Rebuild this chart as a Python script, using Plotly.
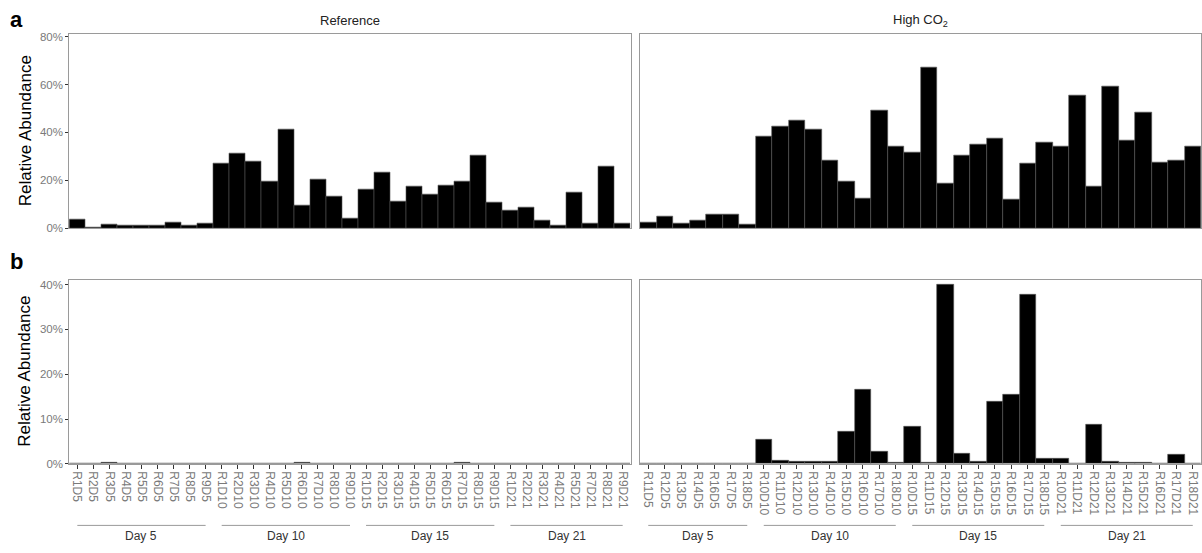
import plotly.graph_objects as go

# Sample labels per treatment (x categories)
ref_labels = (
    [f"R{i}D5" for i in range(1, 10)]
    + [f"R{i}D10" for i in range(1, 10)]
    + [f"R{i}D15" for i in range(1, 10)]
    + ["R1D21", "R2D21", "R3D21", "R4D21", "R5D21", "R7D21", "R8D21", "R9D21"]
)
co2_labels = (
    ["R11D5", "R12D5", "R13D5", "R14D5", "R16D5", "R17D5", "R18D5"]
    + [f"R{i}D10" for i in range(10, 19)]
    + [f"R{i}D15" for i in range(10, 19)]
    + [f"R{i}D21" for i in range(10, 19)]
)

# Day groups: (label, first sample, last sample)
ref_groups = [("Day 5", "R1D5", "R9D5"), ("Day 10", "R1D10", "R9D10"),
              ("Day 15", "R1D15", "R9D15"), ("Day 21", "R1D21", "R9D21")]
co2_groups = [("Day 5", "R11D5", "R18D5"), ("Day 10", "R10D10", "R18D10"),
              ("Day 15", "R10D15", "R18D15"), ("Day 21", "R10D21", "R18D21")]

# Panel a: relative abundance (%)
ref_a = [3.7, 0.5, 1.6, 1.2, 1.0, 1.1, 2.3, 1.1, 1.8,
         27.0, 31.4, 27.9, 19.6, 41.4, 9.5, 20.3, 13.4, 4.1,
         16.3, 23.2, 11.2, 17.5, 14.1, 17.9, 19.6, 30.3, 10.8,
         7.3, 8.6, 3.4, 1.0, 14.9, 2.1, 25.9, 1.9]
co2_a = [2.5, 4.7, 1.9, 3.3, 5.9, 5.6, 1.4,
         38.5, 42.5, 45.1, 41.4, 28.1, 19.6, 12.6, 49.2, 34.1,
         31.5, 67.1, 18.6, 30.5, 34.9, 37.5, 12.1, 27.1, 36.0,
         34.2, 55.5, 17.4, 59.0, 36.8, 48.4, 27.4, 28.4, 34.0]

# Panel b: relative abundance (%)
ref_b = [0.05, 0.05, 0.3, 0.05, 0.05, 0.05, 0.05, 0.05, 0.05,
         0.05, 0.05, 0.05, 0.05, 0.1, 0.25, 0.1, 0.05, 0.05,
         0.05, 0.05, 0.05, 0.05, 0.05, 0.1, 0.3, 0.05, 0.05,
         0.05, 0.05, 0.05, 0.05, 0.05, 0.05, 0.05, 0.05]
co2_b = [0.03, 0.03, 0.03, 0.03, 0.03, 0.03, 0.03,
         5.4, 0.7, 0.4, 0.55, 0.6, 7.2, 16.6, 2.8, 0.2,
         8.3, 0.3, 39.9, 2.3, 0.55, 13.9, 15.4, 37.8, 1.1,
         1.2, 0.05, 8.85, 0.6, 0.25, 0.2, 0.05, 2.1, 0.03]

FONT = "Liberation Sans, Arial, sans-serif"
W, H = 1202, 553

# Panel geometry in pixels
XL = (69.3, 630.7)
XR = (640.0, 1201.0)
YA = (31.0, 228.3)     # top, bottom of panel a
YB = (280.7, 468.3)    # top, bottom of panel b


def xdom(px):
    return [px[0] / W, px[1] / W]


def ydom(py):
    return [1 - py[1] / H, 1 - py[0] / H]


fig = go.Figure()

panels = [
    ("x", "y", ref_labels, ref_a),
    ("x2", "y2", co2_labels, co2_a),
    ("x3", "y3", ref_labels, ref_b),
    ("x4", "y4", co2_labels, co2_b),
]
for xa, ya, labels, vals in panels:
    fig.add_trace(go.Bar(
        x=list(range(len(labels))), y=vals, width=1.0,
        marker=dict(color="black", line=dict(color="#555555", width=0.6)),
        xaxis=xa, yaxis=ya, showlegend=False, hoverinfo="x+y",
    ))

border = dict(showline=True, mirror=True, linecolor="#9a9a9a", linewidth=1,
              showgrid=False, zeroline=False)
ytick = dict(ticks="outside", ticklen=3, tickcolor="#333333", tickwidth=1,
             tickfont=dict(family=FONT, size=11.5, color="#7a7a7a"))

layout = dict(
    width=W, height=H, margin=dict(l=0, r=0, t=0, b=0),
    plot_bgcolor="white", paper_bgcolor="white", bargap=0,
    font=dict(family=FONT),
)

# x axes
for name, px, py_, labels, anchor, show in [
    ("xaxis", XL, YA, ref_labels, "y", False),
    ("xaxis2", XR, YA, co2_labels, "y2", False),
    ("xaxis3", XL, YB, ref_labels, "y3", True),
    ("xaxis4", XR, YB, co2_labels, "y4", True),
]:
    n = len(labels)
    ax = dict(border, domain=xdom(px), anchor=anchor, range=[-0.5, n - 0.5],
              tickmode="array", tickvals=list(range(n)), ticktext=labels)
    if show:
        ax.update(ticks="outside", ticklen=4, tickcolor="#333333", tickwidth=1,
                  showticklabels=True, tickangle=90,
                  tickfont=dict(family=FONT, size=12, color="#7a7a7a"))
    else:
        ax.update(ticks="", showticklabels=False)
    layout[name] = ax

# y axes
layout["yaxis"] = dict(border, **ytick, domain=ydom(YA), anchor="x", range=[0, 80.9],
                       tickvals=[0, 20, 40, 60, 80], ticktext=["0%", "20%", "40%", "60%", "80%"])
layout["yaxis2"] = dict(border, domain=ydom(YA), anchor="x2", range=[0, 80.9],
                        showticklabels=False, ticks="")
layout["yaxis3"] = dict(border, **ytick, domain=ydom(YB), anchor="x3", range=[0, 41.1],
                        tickvals=[0, 10, 20, 30, 40], ticktext=["0%", "10%", "20%", "30%", "40%"])
layout["yaxis4"] = dict(border, domain=ydom(YB), anchor="x4", range=[0, 41.1],
                        showticklabels=False, ticks="")

fig.update_layout(**layout)

annotations = []
shapes = []

# Facet strip titles
for text, px in [("Reference", XL), ("High CO<sub>2</sub>", XR)]:
    annotations.append(dict(text=text, x=(px[0] + px[1]) / 2 / W, y=1 - 17 / H,
                            xref="paper", yref="paper", showarrow=False,
                            font=dict(family=FONT, size=13, color="#222222"),
                            xanchor="center", yanchor="middle"))

# Panel letters
for text, ypx in [("a", 16), ("b", 262)]:
    annotations.append(dict(text=f"<b>{text}</b>", x=8 / W, y=1 - ypx / H,
                            xref="paper", yref="paper", showarrow=False,
                            font=dict(family=FONT, size=22, color="black"),
                            xanchor="left", yanchor="middle"))

# y-axis titles
for py_ in [YA, YB]:
    annotations.append(dict(text="Relative Abundance", x=25 / W,
                            y=1 - (py_[0] + py_[1]) / 2 / H,
                            xref="paper", yref="paper", showarrow=False, textangle=-90,
                            font=dict(family=FONT, size=17, color="black"),
                            xanchor="center", yanchor="middle"))

# Day group brackets below the bottom panels
for xref, labels, groups in [("x3", ref_labels, ref_groups), ("x4", co2_labels, co2_groups)]:
    for text, first, last in groups:
        i0, i1 = labels.index(first), labels.index(last)
        shapes.append(dict(type="line", xref=xref, yref="paper",
                           x0=i0, x1=i1, y0=1 - 531 / H, y1=1 - 531 / H,
                           line=dict(color="#9a9a9a", width=1)))
        annotations.append(dict(text=text, x=(i0 + i1) / 2, y=1 - 542 / H,
                                xref=xref, yref="paper", showarrow=False,
                                font=dict(family=FONT, size=12, color="#333333"),
                                xanchor="center", yanchor="middle"))

fig.update_layout(annotations=annotations, shapes=shapes)

fig.write_html("out.html")
